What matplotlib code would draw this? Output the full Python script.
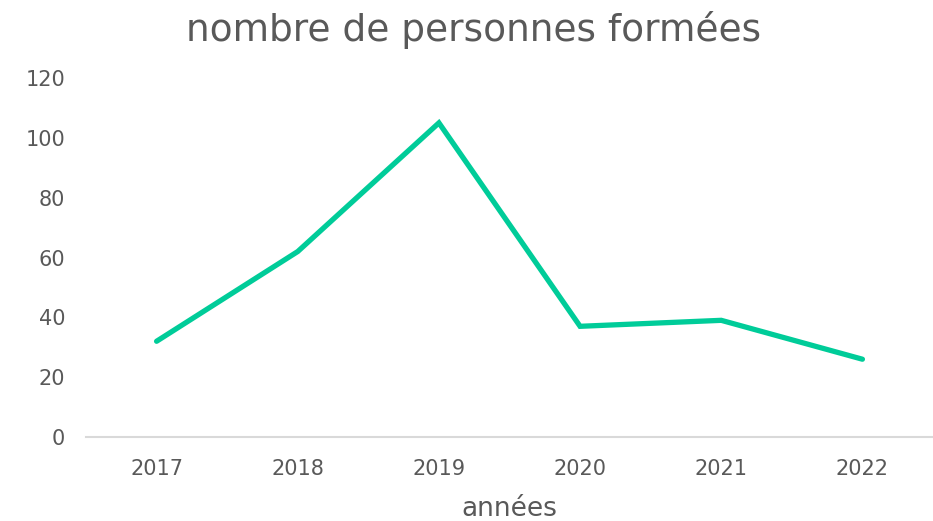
import matplotlib
matplotlib.use("Agg")
import matplotlib.pyplot as plt

years = ["2017", "2018", "2019", "2020", "2021", "2022"]
personnes = [32, 62, 105, 37, 39, 26]
y_ticks = [0, 20, 40, 60, 80, 100, 120]

TEXT = "#595959"
plt.rcParams["font.family"] = ["DejaVu Sans"]

fig = plt.figure(figsize=(9.33, 5.21), dpi=100)
ax = fig.add_axes([86 / 933, 84 / 521, 1 - 86 / 933, 359 / 521])

x = list(range(len(years)))
ax.plot(x, personnes, color="#00CC99", linewidth=3.8, solid_capstyle="round",
        solid_joinstyle="miter")

ax.set_xlim(-0.5, len(years) - 0.5)
ax.set_ylim(0, 120)
ax.set_xticks(x)
ax.set_xticklabels(years)
ax.set_yticks(y_ticks)

for s in ["top", "right", "left"]:
    ax.spines[s].set_visible(False)
ax.spines["bottom"].set_color("#d9d9d9")
ax.spines["bottom"].set_linewidth(1.5)
ax.spines["bottom"].set_zorder(0)

ax.tick_params(axis="both", length=0, labelsize=15, labelcolor=TEXT)
ax.tick_params(axis="x", pad=16)
ax.tick_params(axis="y", pad=15)

ax.set_xlabel("années", fontsize=19, color=TEXT, labelpad=12)
fig.text(474 / 933, 1 - 30 / 521, "nombre de personnes formées",
         ha="center", va="center", fontsize=27, color=TEXT)

fig.savefig("out.png", dpi=100)
